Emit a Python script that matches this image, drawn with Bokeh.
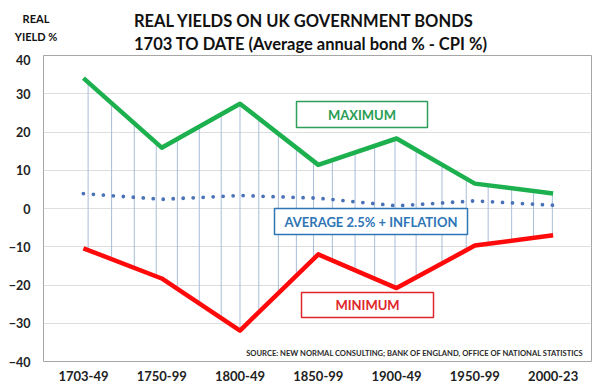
from bokeh.plotting import figure
from bokeh.models import Range1d, FixedTicker, Label, Div
from bokeh.layouts import column
from bokeh.embed import file_html
from bokeh.resources import INLINE
import numpy as np

# ---------------- data ----------------
categories = ["1703-49", "1750-99", "1800-49", "1850-99", "1900-49", "1950-99", "2000-23"]
maximum = [34.1, 15.9, 27.4, 11.4, 18.3, 6.5, 3.9]
minimum = [-10.4, -18.3, -31.9, -12.0, -20.8, -9.7, -7.0]
average = [3.9, 2.4, 3.4, 2.7, 0.7, 2.0, 0.85]
y_ticks = [-40, -30, -20, -10, 0, 10, 20, 30, 40]
# x positions (in category units) of the thin high-low drop lines
drop_x = [0.06, 0.36, 0.65, 0.93, 1.20, 1.48, 1.76, 2.0, 2.24, 2.49, 2.72, 2.94,
          3.18, 3.47, 3.72, 3.98, 4.25, 4.58, 4.89, 5.17, 5.47, 5.75, 5.99]

title_1 = "REAL YIELDS ON UK GOVERNMENT BONDS"
title_2 = "1703 TO DATE (Average annual bond % - CPI %)"
y_title = ["REAL", "YIELD %"]

FONT = "Lato"
W, H = 592, 390
HEAD = 54                          # height of the heading strip
FL, FT, FR, FB = 43, 55, 591, 361   # frame edges in page pixels
X0, X1 = -0.51, 6.49
Y0, Y1 = -40, 40

# ---------------- heading (real HTML text) ----------------
def span(left, top, width, size, txt, align="left"):
    return (f'<div style="position:absolute;left:{left}px;top:{top}px;width:{width}px;'
            f'font-family:{FONT};font-weight:bold;font-size:{size}px;line-height:{round(size*1.2)}px;'
            f'color:#111;text-align:{align};white-space:nowrap;">{txt}</div>')

html = ('<div style="position:relative;width:592px;height:54px;overflow:visible;">'
        + span(0, 12, 72, 11, y_title[0], "center")
        + span(0, 30, 72, 11, y_title[1], "center")
        + span(134, 11, 440, 16.5, title_1)
        + span(134, 34, 440, 16.5, title_2)
        + '</div>')
head = Div(text=html, width=W, height=HEAD, margin=0)

# ---------------- chart ----------------
p = figure(width=W, height=H - HEAD, output_backend="svg", toolbar_location=None,
           x_range=Range1d(X0, X1), y_range=Range1d(Y0, Y1),
           min_border_left=FL, min_border_top=FT - HEAD,
           min_border_right=W - FR, min_border_bottom=H - FB, margin=0)
p.background_fill_color = "white"
p.border_fill_color = "white"
p.outline_line_color = "#a6a6a6"
p.outline_line_width = 1

# axes
p.yaxis.ticker = FixedTicker(ticks=y_ticks)
p.xaxis.ticker = FixedTicker(ticks=list(range(len(categories))))
p.xaxis.major_label_overrides = {i: c for i, c in enumerate(categories)}
for ax in (p.xaxis, p.yaxis):
    ax.axis_line_color = None
    ax.major_tick_line_color = None
    ax.minor_tick_line_color = None
    ax.major_tick_out = 0
    ax.major_tick_in = 0
    ax.major_label_text_font = FONT
    ax.major_label_text_font_style = "bold"
    ax.major_label_text_color = "#222222"
p.yaxis.major_label_text_font_size = "12.5px"
p.xaxis.major_label_text_font_size = "13px"
p.yaxis.major_label_standoff = 13
p.xaxis.major_label_standoff = 9
p.ygrid.ticker = FixedTicker(ticks=y_ticks)
p.ygrid.grid_line_color = "#dedede"
p.xgrid.grid_line_color = None

xs = list(range(len(categories)))

# drop lines between max and min
dtop = np.interp(drop_x, xs, maximum)
dbot = np.interp(drop_x, xs, minimum)
p.segment(x0=drop_x, y0=dtop, x1=drop_x, y1=dbot, line_color="#a9bdd9", line_width=1)

# series
p.line(xs, maximum, line_color="#1db04e", line_width=4.5, line_join="round")
p.line(xs, minimum, line_color="#ff0a0a", line_width=4.5, line_join="round")
p.line(xs, average, line_color="#4a72b8", line_width=3.8, line_dash="0 10",
       line_cap="round")

# helpers: page pixel -> data
def dx(px):
    return X0 + (px - FL) * (X1 - X0) / (FR - FL)

def dy(py):
    return Y1 - (py - FT) * (Y1 - Y0) / (FB - FT)

def box(l, t, r, b, color):
    p.quad(left=dx(l), right=dx(r), top=dy(t), bottom=dy(b),
           fill_color="white", line_color=color, line_width=1.5)

def label(px, py, txt, size, color="#1a1a1a", align="center"):
    p.add_layout(Label(x=dx(px), y=dy(py), text=txt, text_font=FONT,
                       text_font_style="bold", text_font_size=size,
                       text_color=color, text_align=align,
                       text_baseline="middle"))

box(296, 101, 427, 127, "#2f9e5b")
label(361.5, 114, "MAXIMUM", "13px", "#2a9d55")
box(274, 208, 467, 234, "#2e75b6")
label(370.5, 221, "AVERAGE 2.5% + INFLATION", "13px", "#2e75b6")
box(301, 292, 433, 317, "#e0262b")
label(367, 304.5, "MINIMUM", "13px", "#e0262b")

label(583, 352, "SOURCE: NEW NORMAL CONSULTING; BANK OF ENGLAND, OFFICE OF NATIONAL STATISTICS",
      "7.6px", "#2a2a2a", "right")

layout = column(head, p, spacing=0, margin=0)
open("out.html", "w").write(file_html(layout, INLINE))
